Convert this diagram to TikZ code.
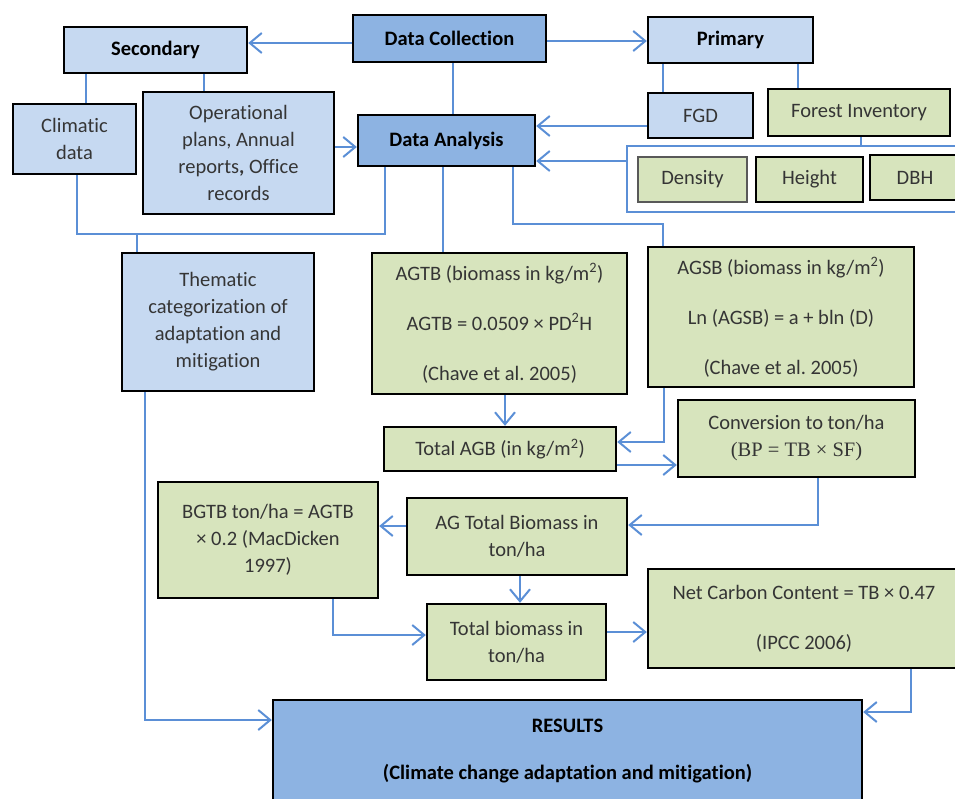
\documentclass[tikz,border=0pt]{standalone}
\usepackage{fontspec}
\setmainfont{Carlito}[Ligatures=NoCommon]
\newfontfamily\frmfont{Liberation Serif}
\usetikzlibrary{arrows.meta}
\definecolor{lnblue}{HTML}{5B8FD6}
\definecolor{dkblue}{HTML}{8DB3E2}
\definecolor{ltblue}{HTML}{C6D9F1}
\definecolor{grn}{HTML}{D7E4BD}
\definecolor{txt}{HTML}{353535}
\frenchspacing
\newcommand\bx[7]{\node[#2, minimum width={(#5-#3)*1pt}, minimum height={(#6-#4)*1pt}] (#1) at ({(#3+#5)/2},{(#4+#6)/2}) {#7};}
\begin{document}
\begin{tikzpicture}[x=1pt,y=-1pt,
  box/.style={draw=black, line width=2.4pt, inner sep=0pt, align=center, font=\fontsize{20.5}{27}\selectfont, text=txt},
  dk/.style={box, fill=dkblue, font=\fontsize{20.5}{27}\selectfont\bfseries, text=black},
  lt/.style={box, fill=ltblue},
  ltb/.style={lt, font=\fontsize{20.5}{27}\selectfont\bfseries, text=black},
  gr/.style={box, fill=grn},
  con/.style={draw=lnblue, line width=2pt},
  arr/.style={con, -{Straight Barb[length=12pt,width=20pt]}}]
\useasboundingbox (0,0) rectangle (955,798);
% boxes
\bx{dc}{dk}{353}{15}{546}{62}{Data Collection}
\bx{sec}{ltb}{64}{27}{247}{73}{Secondary}
\bx{pri}{ltb}{648}{17}{813}{63}{Primary}
\bx{clim}{lt}{13}{104}{136}{174}{Climatic\\data}
\bx{oper}{lt}{143}{92}{334}{214}{Operational\\plans, Annual\\reports\textbf{,} Office\\records}
\bx{da}{dk}{358}{115}{535}{166}{Data Analysis}
\bx{fgd}{lt}{648}{93}{753}{138}{FGD}
\bx{fi}{gr}{768}{89}{950}{136}{Forest Inventory}
\bx{cont}{box, draw=lnblue, line width=1.8pt, fill=white}{627}{146}{965}{212}{}
\bx{dens}{gr, draw=black!65, line width=1.6pt}{638}{157}{747}{202}{Density}
\bx{hgt}{gr}{756}{157}{863}{202}{Height}
\bx{dbh}{gr}{870}{155}{960}{200}{DBH}
\bx{them}{lt}{122}{253}{314}{391}{Thematic\\categorization of\\adaptation and\\mitigation}
\bx{agtb}{gr}{372}{253}{627}{394}{AGTB (biomass in kg/m\textsuperscript{2})\\[23pt]AGTB = 0.0509 × PD\textsuperscript{2}H\\[23pt](Chave et al. 2005)}
\bx{agsb}{gr}{648}{247}{914}{387}{AGSB (biomass in kg/m\textsuperscript{2})\\[23pt]Ln (AGSB) = a + bln (D)\\[23pt](Chave et al. 2005)}
\bx{tagb}{gr}{384}{427}{616}{471}{Total AGB (in kg/m\textsuperscript{2})}
\bx{conv}{gr}{678}{400}{915}{477}{Conversion to ton/ha\\{\frmfont (BP = TB × SF)}}
\bx{agtot}{gr}{407}{498}{627}{575}{AG Total Biomass in\\ton/ha}
\bx{bgtb}{gr}{158}{482}{378}{598}{BGTB ton/ha = AGTB\\× 0.2 (MacDicken\\1997)}
\bx{totb}{gr}{427}{604}{606}{680}{Total biomass in\\ton/ha}
\bx{net}{gr}{648}{569}{960}{668}{Net Carbon Content = TB × 0.47\\[23pt](IPCC 2006)}
\bx{res}{dk}{273}{700}{862}{803}{RESULTS\\[20pt](Climate change adaptation and mitigation)}
% connectors
\draw[arr] (dc.west |- 0,43) -- (sec.east |- 0,43);
\draw[arr] (dc.east |- 0,41) -- (pri.west |- 0,41);
\draw[con] (453,0 |- dc.south) -- (453,0 |- da.north);
\draw[con] (86,0 |- sec.south) -- (86,0 |- clim.north);
\draw[con] (204,0 |- sec.south) -- (204,0 |- oper.north);
\draw[arr] (oper.east |- 0,147) -- (da.west |- 0,147);
\draw[con] (663,0 |- pri.south) -- (663,0 |- fgd.north);
\draw[con] (798,0 |- pri.south) -- (798,0 |- fi.north);
\draw[arr] (fgd.west |- 0,126) -- (da.east |- 0,126);
\draw[con] (861,0 |- fi.south) -- (861,0 |- cont.north);
\draw[arr] (cont.west |- 0,161) -- (da.east |- 0,161);
\draw[con] (385,0 |- da.south) -- (385,234) -- (77,234) -- (77,0 |- clim.south);
\draw[con] (137,234) -- (137,0 |- them.north);
\draw[con] (443,0 |- da.south) -- (443,0 |- agtb.north);
\draw[con] (513,0 |- da.south) -- (513,224) -- (663,224) -- (663,0 |- agsb.north);
\draw[arr] (505,0 |- agtb.south) -- (505,0 |- tagb.north);
\draw[arr] (664,0 |- agsb.south) -- (664,442) -- (tagb.east |- 0,442);
\draw[arr] (tagb.east |- 0,465) -- (conv.west |- 0,465);
\draw[arr] (818,0 |- conv.south) -- (818,525) -- (agtot.east |- 0,525);
\draw[arr] (agtot.west |- 0,526) -- (bgtb.east |- 0,526);
\draw[arr] (520,0 |- agtot.south) -- (520,0 |- totb.north);
\draw[arr] (333,0 |- bgtb.south) -- (333,635) -- (totb.west |- 0,635);
\draw[arr] (totb.east |- 0,632) -- (net.west |- 0,632);
\draw[arr] (911,0 |- net.south) -- (911,712) -- (res.east |- 0,712);
\draw[arr] (145,0 |- them.south) -- (145,720) -- (res.west |- 0,720);
\end{tikzpicture}
\end{document}
